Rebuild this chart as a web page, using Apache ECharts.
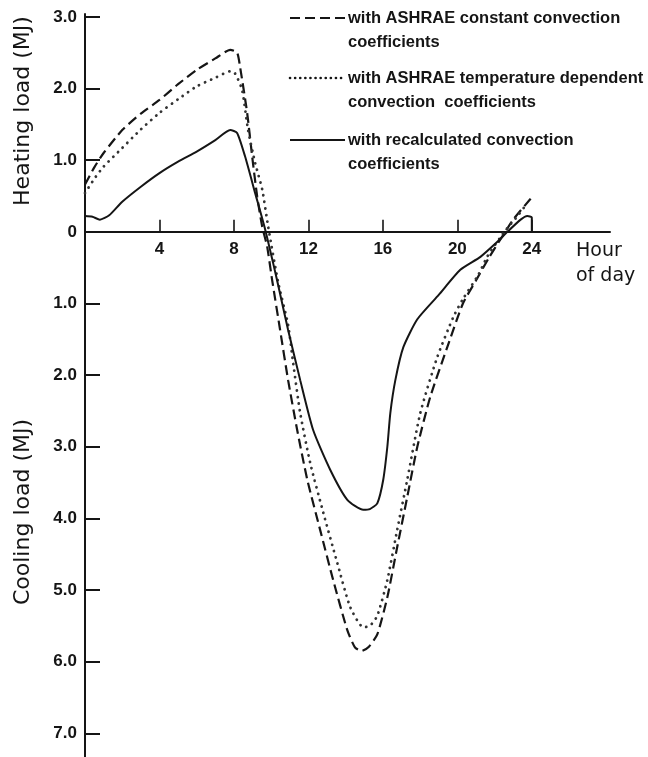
<!DOCTYPE html>
<html>
<head>
<meta charset="utf-8">
<script src="https://cdn.jsdelivr.net/npm/echarts@6/dist/echarts.min.js"></script>
<style>
  html, body { margin: 0; padding: 0; background: #fff; }
  #chart { width: 648px; height: 757px; }
</style>
</head>
<body>
<div id="chart"></div>
<script>
// hour of day ticks and load ticks (heating positive, cooling negative)
var hourTicks = [4, 8, 12, 16, 20, 24];
var loadTicks = [3, 2, 1, 0, -1, -2, -3, -4, -5, -6, -7];

var seriesNames = [
  "with ASHRAE constant convection\ncoefficients",
  "with ASHRAE temperature dependent\nconvection  coefficients",
  "with recalculated convection\ncoefficients",
];

// [hour, load MJ]
var constantCoef = [
  [0, 0.66], [0.5, 0.9], [1, 1.1], [2, 1.42], [3, 1.65], [4, 1.84], [5, 2.06],
  [6, 2.26], [7, 2.42], [7.8, 2.54], [8.17, 2.5], [8.33, 2.3], [8.71, 1.66],
  [8.98, 1.05], [9.25, 0.49], [9.52, 0.07], [9.78, -0.2], [10.05, -0.67],
  [10.48, -1.37], [10.91, -2.07], [11.4, -2.77], [11.94, -3.46], [12.63, -4.16],
  [13.33, -4.86], [14.09, -5.56], [14.5, -5.8], [14.85, -5.85], [15.25, -5.79],
  [15.7, -5.62], [16.24, -5.1], [16.77, -4.4], [17.31, -3.7], [17.85, -3.0],
  [18.55, -2.3], [19.46, -1.61], [20.3, -1.0], [21.0, -0.68], [21.7, -0.36],
  [22.4, -0.07], [23.0, 0.17], [23.9, 0.45], [24, 0.48],
];

var tempDependent = [
  [0, 0.54], [0.5, 0.74], [1, 0.91], [2, 1.17], [3, 1.43], [4, 1.66], [5, 1.85],
  [6, 2.03], [7, 2.15], [7.8, 2.24], [8.06, 2.21], [8.44, 1.98], [8.76, 1.42],
  [9.14, 0.96], [9.52, 0.59], [9.84, 0.07], [10.38, -0.71], [10.91, -1.3],
  [11.18, -1.83], [11.56, -2.53], [12.1, -3.23], [12.8, -3.92], [13.55, -4.62],
  [14.25, -5.24], [14.95, -5.52], [15.3, -5.5], [15.7, -5.36], [16.24, -4.86],
  [16.77, -4.16], [17.31, -3.46], [18.01, -2.53], [18.92, -1.75], [19.8, -1.18],
  [20.32, -0.93], [21.13, -0.6], [21.6, -0.35], [22.3, -0.08], [22.74, 0.07],
  [23.2, 0.21], [23.7, 0.38],
];

var recalculated = [
  [0, 0.22], [0.4, 0.21], [0.8, 0.17], [1.3, 0.23], [2, 0.42], [3, 0.63],
  [4, 0.82], [5, 0.98], [6, 1.12], [7, 1.28], [7.8, 1.42], [8.17, 1.38],
  [8.6, 1.05], [9.14, 0.54], [9.68, 0.03], [10.1, -0.43], [10.38, -0.75],
  [10.91, -1.37], [11.56, -2.07], [12.26, -2.77], [13.17, -3.32], [14.09, -3.74],
  [14.95, -3.88], [15.3, -3.87], [15.7, -3.79], [16.02, -3.46], [16.24, -3.0],
  [16.4, -2.53], [16.67, -2.07], [17.1, -1.61], [17.85, -1.22], [19.0, -0.88],
  [20.16, -0.53], [21.24, -0.35], [22.15, -0.14], [22.69, 0], [23.4, 0.17],
  [23.76, 0.22], [24, 0.2], [24, 0],
];

var ink = "#151515";
var tickFont = "Liberation Sans, Arial, sans-serif";
var titleFont = "DejaVu Sans, sans-serif";

var chart = echarts.init(document.getElementById("chart"), null, { renderer: "canvas" });

function legendRow(y, dash, cap, width, label) {
  return {
    type: "group",
    children: [
      {
        type: "line",
        shape: { x1: 290, y1: y, x2: 345, y2: y },
        style: { stroke: ink, lineWidth: width, lineDash: dash, lineCap: cap },
      },
      {
        type: "text",
        x: 348,
        y: y,
        style: {
          text: label,
          fill: ink,
          font: "bold 16.5px " + tickFont,
          lineHeight: 24,
          verticalAlign: "top",
          y: -12,
        },
      },
    ],
  };
}

var gridTop = 14;
var gridBottom = 0;
var yMin = -7.33;
var yMax = 3.04;
var plotHeight = 757 - gridTop - gridBottom;
// distance from the grid bottom up to the zero line
var zeroOffset = plotHeight * (0 - yMin) / (yMax - yMin);

var option = {
  animation: false,
  backgroundColor: "#fff",
  grid: {
    left: 85,
    right: 38,
    top: gridTop,
    bottom: gridBottom,
    containLabel: false,
    outerBoundsMode: "none",
  },
  xAxis: {
    type: "value",
    min: 0,
    max: 28.2,
    position: "bottom",
    offset: -zeroOffset,
    splitLine: { show: false },
    axisLine: { onZero: false, lineStyle: { color: ink, width: 2 } },
    axisTick: {
      inside: true,
      length: 12,
      customValues: hourTicks,
      lineStyle: { color: ink, width: 1.6 },
    },
    axisLabel: {
      customValues: hourTicks,
      margin: 9,
      color: ink,
      fontFamily: tickFont,
      fontWeight: "bold",
      fontSize: 17,
    },
  },
  yAxis: {
    type: "value",
    min: yMin,
    max: yMax,
    splitLine: { show: false },
    axisLine: { lineStyle: { color: ink, width: 2 } },
    axisTick: {
      inside: true,
      length: 15,
      customValues: loadTicks,
      lineStyle: { color: ink, width: 2 },
    },
    axisLabel: {
      customValues: loadTicks,
      margin: 8,
      color: ink,
      fontFamily: tickFont,
      fontWeight: "bold",
      fontSize: 17,
      formatter: function (v) {
        return v === 0 ? "0" : Math.abs(v).toFixed(1);
      },
    },
  },
  series: [
    {
      name: seriesNames[0],
      type: "line",
      data: constantCoef,
      showSymbol: false,
      smooth: 0.2,
      lineStyle: { color: ink, width: 2.2, type: [10, 5] },
    },
    {
      name: seriesNames[1],
      type: "line",
      data: tempDependent,
      showSymbol: false,
      smooth: 0.2,
      lineStyle: { color: "#333", width: 2.8, type: [0.1, 6.5], cap: "round" },
    },
    {
      name: seriesNames[2],
      type: "line",
      data: recalculated,
      showSymbol: false,
      smooth: 0.2,
      lineStyle: { color: ink, width: 2 },
    },
  ],
  graphic: [
    {
      type: "text",
      x: 23,
      y: 111,
      rotation: Math.PI / 2,
      style: {
        text: "Heating load (MJ)",
        fill: ink,
        font: "22px " + titleFont,
        align: "center",
        verticalAlign: "middle",
      },
    },
    {
      type: "text",
      x: 23,
      y: 512,
      rotation: Math.PI / 2,
      style: {
        text: "Cooling load (MJ)",
        fill: ink,
        font: "22px " + titleFont,
        align: "center",
        verticalAlign: "middle",
      },
    },
    {
      type: "text",
      x: 576,
      y: 239,
      style: {
        text: "Hour\nof day",
        fill: ink,
        font: "19px " + titleFont,
        lineHeight: 25,
        verticalAlign: "top",
      },
    },
    legendRow(18, [10, 5], "butt", 2.2, seriesNames[0]),
    legendRow(78, [0.1, 5], "round", 2.6, seriesNames[1]),
    legendRow(140, null, "butt", 2, seriesNames[2]),
  ],
};

chart.setOption(option);
</script>
</body>
</html>
